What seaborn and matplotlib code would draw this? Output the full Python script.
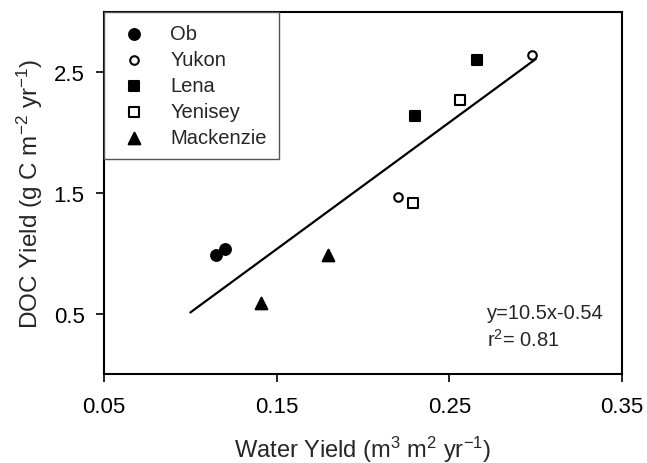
import matplotlib
matplotlib.use("Agg")
import matplotlib.pyplot as plt
import seaborn as sns
import pandas as pd

# Data
rivers = ["Ob", "Yukon", "Lena", "Yenisey", "Mackenzie"]
ob_x = [0.115, 0.120]
ob_y = [0.99, 1.04]
yukon_x = [0.220, 0.298]
yukon_y = [1.47, 2.64]
lena_x = [0.230, 0.266]
lena_y = [2.14, 2.60]
yenisey_x = [0.229, 0.256]
yenisey_y = [1.42, 2.27]
mackenzie_x = [0.141, 0.180]
mackenzie_y = [0.59, 0.99]
fit_x = [0.10, 0.30]
fit_y = [0.51, 2.61]
x_ticks = [0.05, 0.15, 0.25, 0.35]
y_ticks = [0.5, 1.5, 2.5]
equation_text = "y=10.5x-0.54"
r2_text = "r$^{2}$= 0.81"

sns.set_theme(style="ticks")
plt.rcParams["font.family"] = ["Liberation Sans", "DejaVu Sans"]
plt.rcParams["mathtext.fontset"] = "custom"
plt.rcParams["mathtext.rm"] = "Liberation Sans"
plt.rcParams["mathtext.it"] = "Liberation Sans"
plt.rcParams["mathtext.default"] = "regular"

fig = plt.figure(figsize=(6.47, 4.64), dpi=100)
ax = fig.add_axes([104 / 647, 1 - 375 / 464, (622 - 104) / 647, (375 - 13) / 464])

series = [
    ("Ob", ob_x, ob_y, "o", "black", 60),
    ("Yukon", yukon_x, yukon_y, "o", "white", 38),
    ("Lena", lena_x, lena_y, "s", "black", 50),
    ("Yenisey", yenisey_x, yenisey_y, "s", "white", 42),
    ("Mackenzie", mackenzie_x, mackenzie_y, "^", "black", 70),
]
for name, xs, ys, mk, fc, sz in series:
    df = pd.DataFrame({"x": xs, "y": ys})
    sns.scatterplot(data=df, x="x", y="y", marker=mk, s=sz, color=fc,
                    edgecolor="black", linewidth=1.5, ax=ax, label=name, zorder=3)

fit_df = pd.DataFrame({"x": fit_x, "y": fit_y})
sns.lineplot(data=fit_df, x="x", y="y", color="black", linewidth=1.6, ax=ax,
             legend=False, zorder=2)

ax.set_xlim(0.05, 0.35)
ax.set_ylim(0, 3.0)
ax.set_xticks(x_ticks)
ax.set_xticklabels([f"{t:.2f}" for t in x_ticks])
ax.set_yticks(y_ticks)
ax.set_yticklabels([f"{t:.1f}" for t in y_ticks])
ax.tick_params(axis="both", direction="out", length=6, width=1.2, labelsize=16,
               colors="black")
ax.tick_params(axis="x", pad=10)
ax.tick_params(axis="y", pad=8)
for sp in ax.spines.values():
    sp.set_visible(True)
    sp.set_color("black")
    sp.set_linewidth(1.5)

ax.set_xlabel("Water Yield (m$^{3}$ m$^{2}$ yr$^{-1}$)", fontsize=17, labelpad=12)
ax.set_ylabel("DOC Yield (g C m$^{-2}$ yr$^{-1}$)", fontsize=17.5, labelpad=6)

ax.text(0.272, 0.51, equation_text, fontsize=14.5, va="center", ha="left")
ax.text(0.272, 0.29, r2_text, fontsize=14.5, va="center", ha="left")

leg = ax.legend(loc="upper left", bbox_to_anchor=(0, 1), borderaxespad=0,
                fontsize=14.5, frameon=True, fancybox=False, framealpha=1,
                edgecolor="#555555", labelspacing=0.35, handletextpad=0.9,
                borderpad=0.6, handlelength=1.8)
leg.get_frame().set_linewidth(1.0)

fig.savefig("out.png", dpi=100)
